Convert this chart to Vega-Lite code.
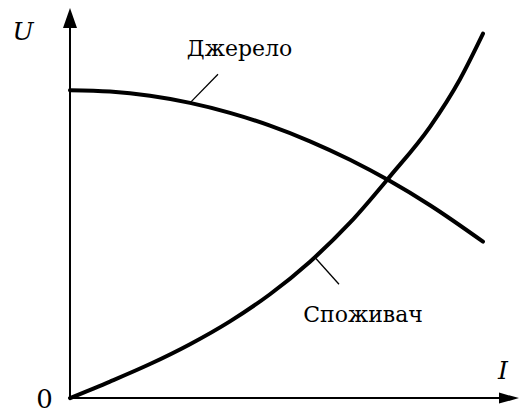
{
  "$schema": "https://vega.github.io/schema/vega-lite/v6.json",
  "width": 519,
  "height": 414,
  "padding": 0,
  "autosize": {"type": "fit", "contains": "padding"},
  "background": "white",
  "config": {"view": {"stroke": null}},
  "datasets": {
    "curves": [
      {"curve": "Джерело", "I": 0.0, "U": 7.893},
      {"curve": "Джерело", "I": 0.891, "U": 7.857},
      {"curve": "Джерело", "I": 1.782, "U": 7.748},
      {"curve": "Джерело", "I": 2.673, "U": 7.566},
      {"curve": "Джерело", "I": 3.563, "U": 7.311},
      {"curve": "Джерело", "I": 4.454, "U": 6.983},
      {"curve": "Джерело", "I": 5.345, "U": 6.582},
      {"curve": "Джерело", "I": 6.236, "U": 6.108},
      {"curve": "Джерело", "I": 7.127, "U": 5.562},
      {"curve": "Джерело", "I": 8.018, "U": 4.943},
      {"curve": "Джерело", "I": 9.198, "U": 4.01},
      {"curve": "Споживач", "I": 0.0, "U": 0.0},
      {"curve": "Споживач", "I": 0.891, "U": 0.424},
      {"curve": "Споживач", "I": 1.782, "U": 0.873},
      {"curve": "Споживач", "I": 2.673, "U": 1.381},
      {"curve": "Споживач", "I": 3.563, "U": 1.967},
      {"curve": "Споживач", "I": 4.454, "U": 2.662},
      {"curve": "Споживач", "I": 5.345, "U": 3.497},
      {"curve": "Споживач", "I": 6.236, "U": 4.495},
      {"curve": "Споживач", "I": 7.127, "U": 5.683},
      {"curve": "Споживач", "I": 8.018, "U": 6.954},
      {"curve": "Споживач", "I": 8.686, "U": 8.173},
      {"curve": "Споживач", "I": 9.198, "U": 9.34}
    ],
    "axes": [
      {"axis": "U", "I": 0, "U": 0, "I2": 0, "U2": 9.55},
      {"axis": "I", "I": 0, "U": 0, "I2": 9.6, "U2": 0}
    ],
    "leaders": [
      {"label": "Джерело", "I": 2.673, "U": 7.566, "I2": 3.296, "U2": 8.299},
      {"label": "Споживач", "I": 5.457, "U": 3.604, "I2": 5.991, "U2": 2.919}
    ],
    "arrows": [
      {"axis": "U", "I": 0, "U": 10.0},
      {"axis": "I", "I": 10.0, "U": 0}
    ],
    "labels": [
      {"text": "Джерело", "I": 3.775, "U": 8.756},
      {"text": "Споживач", "I": 6.526, "U": 1.954}
    ],
    "origin": [
      {"text": "0", "I": -0.568, "U": -0.254}
    ],
    "axisNames": [
      {"text": "U", "I": -1.047, "U": 9.188},
      {"text": "I", "I": 9.644, "U": 0.482}
    ]
  },
  "encoding": {
    "x": {"field": "I", "type": "quantitative", "scale": {"domain": [-1.559, 10.0], "nice": false, "zero": false}, "axis": null},
    "y": {"field": "U", "type": "quantitative", "scale": {"domain": [-0.3046, 10.203], "nice": false, "zero": false}, "axis": null}
  },
  "layer": [
    {
      "data": {"name": "axes"},
      "mark": {"type": "rule", "color": "black", "strokeWidth": 2},
      "encoding": {"x2": {"field": "I2"}, "y2": {"field": "U2"}}
    },
    {
      "data": {"name": "arrows"},
      "transform": [{"filter": "datum.axis === 'U'"}],
      "mark": {"type": "point", "filled": true, "color": "black", "opacity": 1, "size": 400, "shape": "M 0 0 L -0.7 2 L 0.7 2 Z"}
    },
    {
      "data": {"name": "arrows"},
      "transform": [{"filter": "datum.axis === 'I'"}],
      "mark": {"type": "point", "filled": true, "color": "black", "opacity": 1, "size": 400, "shape": "M 0 0 L -2 -0.55 L -2 0.55 Z"}
    },
    {
      "data": {"name": "leaders"},
      "mark": {"type": "rule", "color": "black", "strokeWidth": 1.3},
      "encoding": {"x2": {"field": "I2"}, "y2": {"field": "U2"}}
    },
    {
      "data": {"name": "curves"},
      "mark": {"type": "line", "color": "black", "strokeWidth": 4, "interpolate": "monotone", "strokeCap": "round"},
      "encoding": {"detail": {"field": "curve"}}
    },
    {
      "data": {"name": "labels"},
      "mark": {"type": "text", "font": "DejaVu Serif", "fontSize": 22, "align": "center", "baseline": "alphabetic", "color": "black"},
      "encoding": {"text": {"field": "text"}}
    },
    {
      "data": {"name": "origin"},
      "mark": {"type": "text", "font": "DejaVu Serif", "fontSize": 26, "align": "center", "baseline": "alphabetic", "color": "black"},
      "encoding": {"text": {"field": "text"}}
    },
    {
      "data": {"name": "axisNames"},
      "mark": {"type": "text", "font": "DejaVu Serif", "fontStyle": "italic", "fontSize": 25, "align": "center", "baseline": "alphabetic", "color": "black"},
      "encoding": {"text": {"field": "text"}}
    }
  ]
}
